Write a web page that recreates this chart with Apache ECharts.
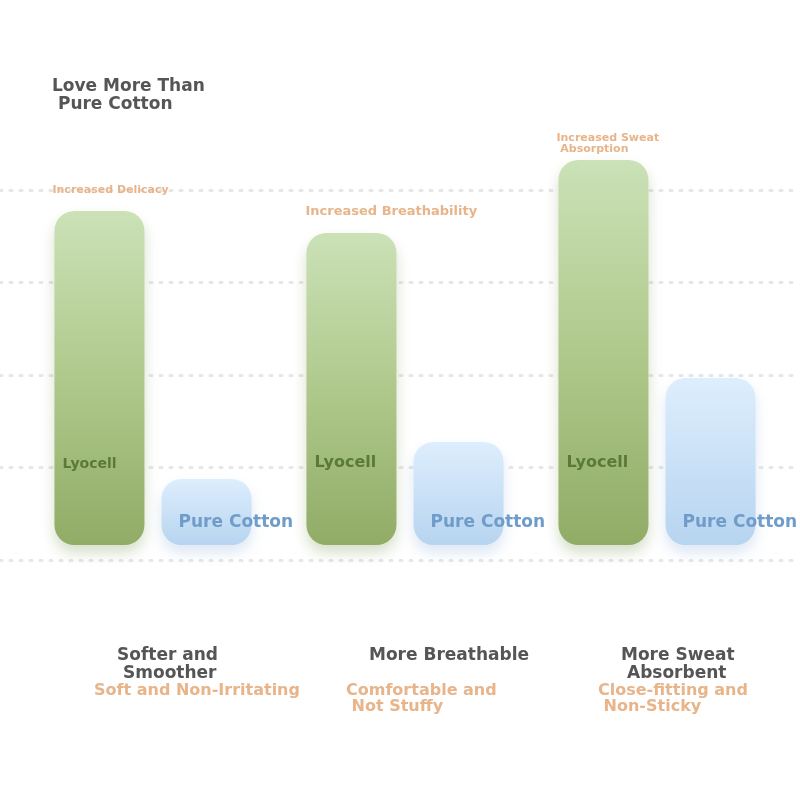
<!DOCTYPE html>
<html>
<head>
<meta charset="utf-8">
<title>Love More Than Pure Cotton</title>
<script src="https://cdn.jsdelivr.net/npm/echarts@6/dist/echarts.min.js"></script>
<style>
html, body { margin: 0; padding: 0; background: #fff; }
#chart { width: 800px; height: 800px; }
</style>
</head>
<body>
<div id="chart"></div>
<script>
// values (px-like units, 0 = bar foot)
var categories = ['Softer and\nSmoother', 'More Breathable', 'More Sweat\nAbsorbent'];
var subtitles = ['Soft and Non-Irritating', 'Comfortable and\n Not Stuffy', 'Close-fitting and\n Non-Sticky'];
var notes = ['Increased Delicacy', 'Increased Breathability', 'Increased Sweat\n Absorption'];
var seriesNames = ['Lyocell', 'Pure Cotton'];
var lyocell = [334, 312, 385];
var cotton = [66, 103, 167];
var gridSteps = 4; // dotted guide lines

var font = 'DejaVu Sans';
var orange = '#e8b48a';

// note label look per bar (size / lift)
var noteLook = [
	{ fontSize: 11, offset: [-47, -10] },
	{ fontSize: 13, offset: [-46, -10] },
	{ fontSize: 11, offset: [-47, 0], lineHeight: 11 }
];

function axisText(value, index) {
	var lines = value.split('\n');
	var out = [];
	for (var i = 0; i < lines.length; i++) {
		out.push('{' + (i == 0 ? 't' : 't2') + '|' + lines[i] + '}');
	}
	if (lines.length < 2) out.push('{t| }');
	var sub = subtitles[index].split('\n');
	for (var j = 0; j < sub.length; j++) {
		out.push('{s|' + sub[j] + '}');
	}
	return out.join('\n');
}

var myChart = echarts.init(document.getElementById('chart'));
var option = {
	backgroundColor: '#fff',
	textStyle: { fontFamily: font },
	title: {
		text: 'Love More Than\n Pure Cotton',
		left: 47,
		top: 73,
		textStyle: { fontFamily: font, fontSize: 17, fontWeight: 'bold', color: '#555', lineHeight: 18 }
	},
	grid: [
		{ left: 0, right: 0, top: 190, bottom: 240 },     // guide lines
		{ left: 27, right: 17, top: 160, bottom: 255 },   // bars
		{ left: 94, right: 202, top: 160, bottom: 255 }   // category texts
	],
	xAxis: [
		{ gridIndex: 0, type: 'category', show: false, data: categories },
		{ gridIndex: 1, type: 'category', data: categories, axisLine: { show: false }, axisTick: { show: false }, axisLabel: { show: false } },
		{
			gridIndex: 2, type: 'category', data: categories, boundaryGap: false,
			axisLine: { show: false }, axisTick: { show: false },
			axisLabel: {
				align: 'left',
				verticalAlign: 'top',
				margin: 102,
				interval: 0,
				formatter: axisText,
				rich: {
					t: { fontFamily: font, fontSize: 17, fontWeight: 'bold', color: '#555', lineHeight: 18, padding: [0, 0, 0, 23] },
					t2: { fontFamily: font, fontSize: 17, fontWeight: 'bold', color: '#555', lineHeight: 18, padding: [0, 0, 0, 29] },
					s: { fontFamily: font, fontSize: 16, fontWeight: 'bold', color: orange, lineHeight: 16 }
				}
			}
		}
	],
	yAxis: [
		{
			gridIndex: 0, type: 'value', min: 0, max: gridSteps, interval: 1,
			axisLine: { show: false }, axisTick: { show: false }, axisLabel: { show: false },
			splitLine: { show: true, lineStyle: { color: '#e6e6e6', width: 3, type: [2, 8], cap: 'round' } }
		},
		{ gridIndex: 1, type: 'value', min: 0, max: 385, show: false, splitLine: { show: false } },
		{ gridIndex: 2, type: 'value', min: 0, max: 385, show: false, splitLine: { show: false } }
	],
	series: [
		{
			name: seriesNames[0],
			type: 'bar',
			xAxisIndex: 1,
			yAxisIndex: 1,
			barWidth: 90,
			barGap: '19%',
			clip: false,
			data: lyocell.map(function(v, i) {
				return { value: v, label: { fontSize: i == 0 ? 14 : 16 } };
			}),
			itemStyle: {
				borderRadius: 20,
				color: new echarts.graphic.LinearGradient(0, 0, 0, 1, [
					{ offset: 0, color: '#cbe1b7' },
					{ offset: 0.5, color: '#afc98c' },
					{ offset: 1, color: '#90ac66' }
				]),
				shadowBlur: 14,
				shadowOffsetY: 8,
				shadowColor: 'rgba(120,150,80,0.30)'
			},
			label: {
				show: true,
				position: 'insideBottomLeft',
				distance: 8,
				offset: [0, -66],
				formatter: seriesNames[0],
				fontFamily: font,
				fontWeight: 'bold',
				color: '#5b7a35'
			},
			markPoint: {
				symbol: 'circle',
				symbolSize: 0,
				data: lyocell.map(function(v, i) {
					return {
						coord: [i, v],
						value: notes[i],
						label: noteLook[i]
					};
				}),
				label: {
					show: true,
					position: 'top',
					align: 'left',
					formatter: function(p) { return p.value; },
					fontFamily: font,
					fontWeight: 'bold',
					color: orange
				}
			}
		},
		{
			name: seriesNames[1],
			type: 'bar',
			xAxisIndex: 1,
			yAxisIndex: 1,
			barWidth: 90,
			barGap: '19%',
			clip: false,
			data: cotton,
			itemStyle: {
				borderRadius: 20,
				color: new echarts.graphic.LinearGradient(0, 0, 0, 1, [
					{ offset: 0, color: '#ddeefd' },
					{ offset: 1, color: '#b7d4f0' }
				]),
				shadowBlur: 14,
				shadowOffsetY: 8,
				shadowColor: 'rgba(120,160,210,0.25)'
			},
			label: {
				show: true,
				position: 'insideBottomLeft',
				distance: 17,
				offset: [0, 3],
				formatter: seriesNames[1],
				fontFamily: font,
				fontSize: 17,
				fontWeight: 'bold',
				color: '#6f9cc9'
			}
		}
	]
};
myChart.setOption(option);
</script>
</body>
</html>
